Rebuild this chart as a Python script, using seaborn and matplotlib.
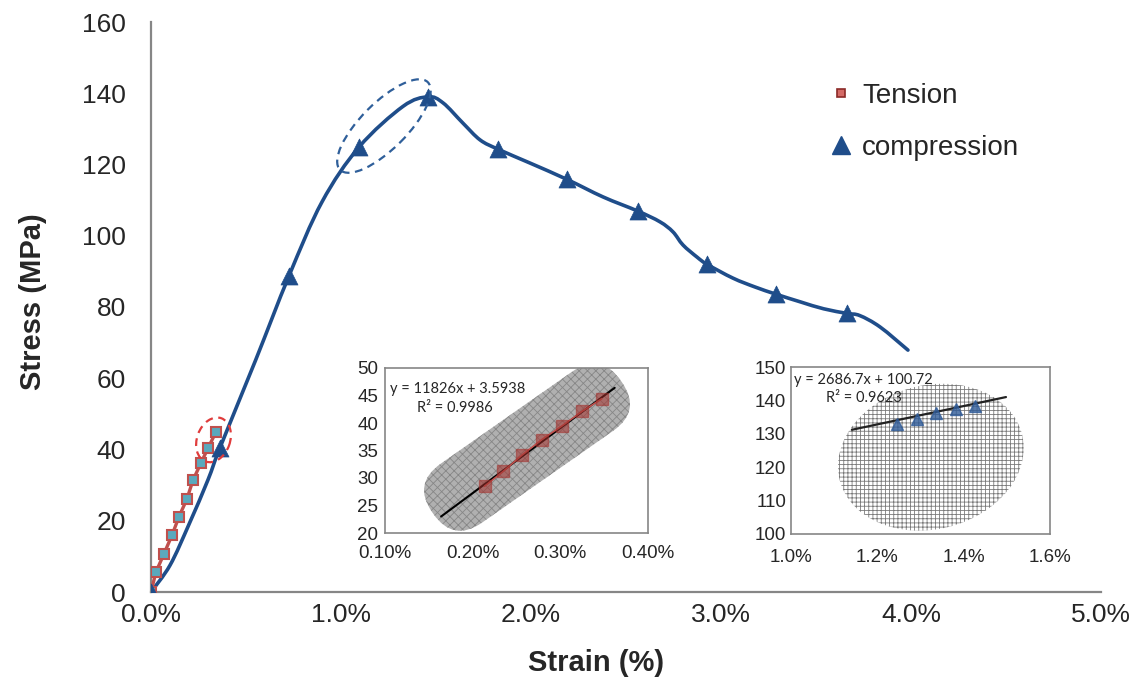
import matplotlib
matplotlib.use("Agg")
import matplotlib.pyplot as plt
from matplotlib.lines import Line2D
from matplotlib.patches import Ellipse, FancyBboxPatch, PathPatch
from matplotlib.path import Path
from matplotlib.ticker import FuncFormatter, MultipleLocator
from matplotlib.transforms import Affine2D, ScaledTranslation
import pandas as pd
import seaborn as sns

# ---- data (strain in %, stress in MPa) ----
tension_strain = [0.0, 0.026, 0.068, 0.111, 0.147, 0.189, 0.221, 0.263, 0.300, 0.342]
tension_stress = [0.0, 5.6, 10.7, 16.0, 21.1, 26.1, 31.4, 36.2, 40.4, 44.9]

comp_strain = [0.0, 0.363, 0.726, 1.095, 1.458, 1.826, 2.190, 2.563, 2.926, 3.289, 3.663]
comp_stress = [0.0, 40.5, 88.7, 124.9, 139.0, 124.3, 115.8, 106.9, 92.0, 83.6, 78.2]

# traced compression curve (line only, drawn smoothed like the original)
curve_strain = [0.0, 0.10, 0.20, 0.30, 0.363, 0.55, 0.726, 0.90, 1.095, 1.326,
                1.458, 1.537, 1.642, 1.732, 1.826, 1.995, 2.190, 2.379, 2.563,
                2.679, 2.747, 2.800, 2.874, 2.926, 3.063, 3.180, 3.289, 3.420,
                3.540, 3.663, 3.730, 3.837, 3.984]
curve_stress = [0.0, 7.5, 19.0, 31.5, 40.5, 65.0, 88.7, 109.5, 124.9, 136.3,
                139.0, 137.3, 131.6, 126.9, 124.3, 120.4, 115.8, 110.9, 106.9,
                103.9, 101.1, 97.4, 94.0, 92.0, 88.1, 85.6, 83.6, 81.4,
                79.5, 78.2, 77.6, 74.4, 67.9]

# inset 1: tension linear part
ins1_strain = [0.2135, 0.2348, 0.2566, 0.2790, 0.3022, 0.3247, 0.3472]
ins1_stress = [28.5, 31.2, 34.2, 37.0, 39.5, 42.1, 44.4]
ins1_fit_x = [0.164, 0.362]
ins1_fit_y = [23.0, 46.4]

# inset 2: compression peak part
ins2_strain = [1.245, 1.292, 1.337, 1.382, 1.426]
ins2_stress = [132.9, 134.4, 136.3, 137.5, 138.4]
ins2_fit_x = [1.141, 1.498]
ins2_fit_y = [131.2, 141.0]

RED = "#c0504d"
BLUE = "#1f4d8a"
GRAY = "#868686"

sns.set_style("white")
plt.rcParams["font.family"] = ["Liberation Sans", "DejaVu Sans"]
plt.rcParams["hatch.linewidth"] = 0.6

fig = plt.figure(figsize=(11.45, 6.82), dpi=100)
ax = fig.add_axes([151 / 1145, 1 - 592 / 682, 950 / 1145, 570 / 682])

tens = pd.DataFrame({"strain": tension_strain, "stress": tension_stress})
comp = pd.DataFrame({"strain": comp_strain, "stress": comp_stress})


def smooth_path(xs, ys):
    # Excel-style smoothed line: cubic Bezier segments through the points
    n = len(xs)
    verts = [(xs[0], ys[0])]
    codes = [Path.MOVETO]
    for i in range(n - 1):
        i0, i2, i3 = max(i - 1, 0), i + 1, min(i + 2, n - 1)
        c1 = (xs[i] + (xs[i2] - xs[i0]) / 6, ys[i] + (ys[i2] - ys[i0]) / 6)
        c2 = (xs[i2] - (xs[i3] - xs[i]) / 6, ys[i2] - (ys[i3] - ys[i]) / 6)
        verts += [c1, c2, (xs[i2], ys[i2])]
        codes += [Path.CURVE4] * 3
    return Path(verts, codes)


ax.add_patch(PathPatch(smooth_path(curve_strain, curve_stress), facecolor="none",
                       edgecolor=BLUE, lw=2.6, capstyle="round", joinstyle="round",
                       zorder=2))
sns.lineplot(data=tens, x="strain", y="stress", sort=False, color=RED, lw=2.4,
             marker="s", markersize=6.5, markerfacecolor="#5aa9bd",
             markeredgecolor=RED, markeredgewidth=1.5, ax=ax, zorder=3)
sns.scatterplot(data=comp, x="strain", y="stress", marker="^", s=150,
                color=BLUE, edgecolor=BLUE, linewidth=0.5, ax=ax, zorder=4)

ax.set_xlim(0, 5)
ax.set_ylim(0, 160)
ax.xaxis.set_major_locator(MultipleLocator(1))
ax.xaxis.set_minor_locator(MultipleLocator(0.2))
ax.yaxis.set_major_locator(MultipleLocator(20))
ax.xaxis.set_major_formatter(FuncFormatter(lambda v, p: f"{v:.1f}%"))
ax.tick_params(axis="both", which="major", direction="in", length=8, width=1.2,
               color=GRAY, labelsize=19)
ax.tick_params(axis="x", which="minor", direction="in", length=5, width=1.2, color=GRAY)
ax.tick_params(axis="x", pad=8)
ax.tick_params(axis="y", pad=18)
for s in ["top", "right"]:
    ax.spines[s].set_visible(False)
for s in ["left", "bottom"]:
    ax.spines[s].set_color(GRAY)
    ax.spines[s].set_linewidth(1.6)

ax.set_xlabel("Strain (%)", fontsize=21, fontweight="bold")
ax.set_ylabel("Stress (MPa)", fontsize=21, fontweight="bold")
ax.xaxis.set_label_coords(0.469, -0.100)
ax.yaxis.set_label_coords(-0.110, 0.51)


# dashed ellipses (size in inches, anchored at a data point)
def ellipse_at(axis, x, y, w, h, angle, color):
    tr = fig.dpi_scale_trans + ScaledTranslation(x, y, axis.transData)
    e = Ellipse((0, 0), w, h, angle=angle, transform=tr, fill=False,
                ls=(0, (3.5, 2.5)), lw=1.6, edgecolor=color, zorder=5)
    axis.add_patch(e)


ellipse_at(ax, 0.329, 42.7, 0.46, 0.33, 70, "#e03c3c")
ellipse_at(ax, 1.226, 130.8, 1.24, 0.46, 45, "#2f5f9a")

handles = [
    Line2D([], [], ls="none", marker="s", ms=6, markerfacecolor="#d46a66",
           markeredgecolor="#8b2a27", markeredgewidth=1.2),
    Line2D([], [], ls="none", marker="^", ms=13, color=BLUE),
]
ax.legend(handles, ["Tension", "compression"], loc="upper left",
          bbox_to_anchor=(0.714, 0.899), bbox_transform=fig.transFigure,
          frameon=False, fontsize=20, handlelength=0.7, handletextpad=0.4,
          labelspacing=0.95, borderpad=0)

# ---- inset 1 ----
ax1 = fig.add_axes([385 / 1145, 1 - 533 / 682, 263 / 1145, 165 / 682])
ax1.set_xlim(0.10, 0.40)
ax1.set_ylim(20, 50)
tr1 = (Affine2D().rotate_deg(35) + fig.dpi_scale_trans
       + ScaledTranslation(0.262, 35.6, ax1.transData))
blob1 = FancyBboxPatch((-1.15, -0.36), 2.30, 0.72,
                       boxstyle="round,pad=0,rounding_size=0.35",
                       transform=tr1, facecolor="#b0b0b0", edgecolor="#868686",
                       hatch="xxxx", lw=0, zorder=1)
ax1.add_patch(blob1)
ax1.plot(ins1_fit_x, ins1_fit_y, color="black", lw=1.5, zorder=3)
ax1.plot(ins1_strain, ins1_stress, color=RED, lw=1.2, zorder=3)
ax1.plot(ins1_strain, ins1_stress, ls="none", marker="s", ms=9,
         color="#a3302c", alpha=0.55, zorder=4)
ax1.xaxis.set_major_locator(MultipleLocator(0.1))
ax1.yaxis.set_major_locator(MultipleLocator(5))
ax1.xaxis.set_major_formatter(FuncFormatter(lambda v, p: f"{v:.2f}%"))
ax1.tick_params(axis="both", direction="in", length=5, color=GRAY, labelsize=13.5)
ax1.tick_params(axis="x", pad=9)
ax1.tick_params(axis="y", pad=5)
ax1.text(0.02, 0.875, "y = 11826x + 3.5938", transform=ax1.transAxes,
         fontsize=10.5, family=["Lato", "DejaVu Sans"], va="center")
ax1.text(0.12, 0.76, "R² = 0.9986", transform=ax1.transAxes,
         fontsize=10.5, family=["Lato", "DejaVu Sans"], va="center")

# ---- inset 2 ----
ax2 = fig.add_axes([791 / 1145, 1 - 534 / 682, 259 / 1145, 167 / 682])
ax2.set_xlim(1.0, 1.6)
ax2.set_ylim(100, 150)
tr2 = fig.dpi_scale_trans + ScaledTranslation(1.324, 123.0, ax2.transData)
blob2 = Ellipse((0, 0), 1.88, 1.44, angle=14, transform=tr2, facecolor="white",
                edgecolor="#7a7a7a", hatch="++++", lw=0, zorder=1)
ax2.add_patch(blob2)
ax2.plot(ins2_fit_x, ins2_fit_y, color="#222222", lw=1.6, zorder=3)
ax2.plot(ins2_strain, ins2_stress, ls="none", marker="^", ms=9,
         color="#2f5b98", alpha=0.8, zorder=4)
ax2.xaxis.set_major_locator(MultipleLocator(0.2))
ax2.yaxis.set_major_locator(MultipleLocator(10))
ax2.xaxis.set_major_formatter(FuncFormatter(lambda v, p: f"{v:.1f}%"))
ax2.tick_params(axis="x", direction="out", length=5, color=GRAY, labelsize=13.5, pad=6)
ax2.tick_params(axis="y", direction="in", length=5, color=GRAY, labelsize=13.5)
ax2.text(0.01, 0.925, "y = 2686.7x + 100.72", transform=ax2.transAxes,
         fontsize=10.5, family=["Lato", "DejaVu Sans"], va="center")
ax2.text(0.135, 0.815, "R² = 0.9623", transform=ax2.transAxes,
         fontsize=10.5, family=["Lato", "DejaVu Sans"], va="center")

for a in (ax1, ax2):
    a.set_xlabel("")
    a.set_ylabel("")
    for s in a.spines.values():
        s.set_color(GRAY)
        s.set_linewidth(1.2)
        s.set_visible(True)

fig.savefig("out.png", dpi=100)
